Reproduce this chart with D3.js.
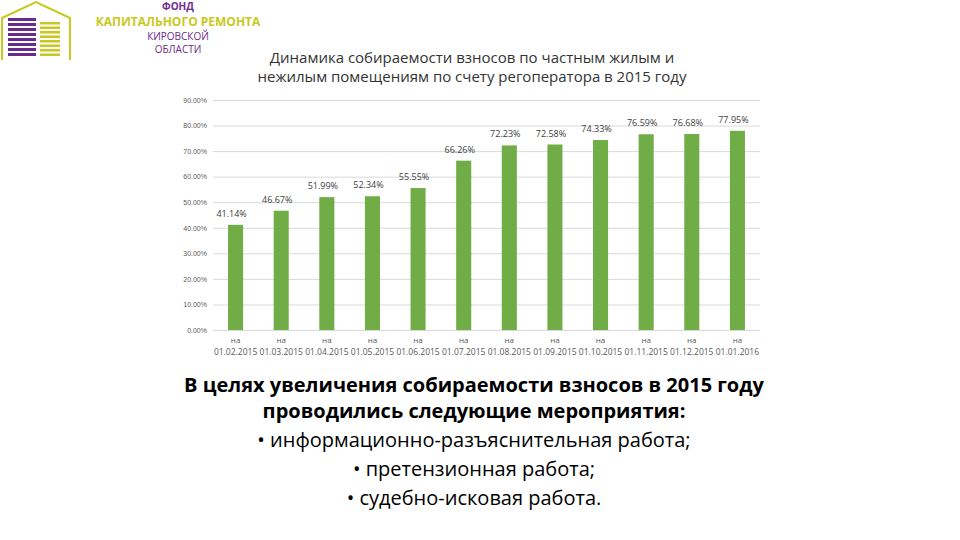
<!DOCTYPE html>
<html><head><meta charset="utf-8">
<script src="https://cdn.jsdelivr.net/npm/d3@7"></script>
<style>body{margin:0;background:#fff;font-family:"Open Sans",sans-serif}</style>
</head><body><svg id="c" width="960" height="540"></svg>
<script>
const dates = ['01.02.2015','01.03.2015','01.04.2015','01.05.2015','01.06.2015','01.07.2015','01.08.2015','01.09.2015','01.10.2015','01.11.2015','01.12.2015','01.01.2016'];
const values = [41.14, 46.67, 51.99, 52.34, 55.55, 66.26, 72.23, 72.58, 74.33, 76.59, 76.68, 77.95];
const yTicks = [0,10,20,30,40,50,60,70,80,90];
const bullets = ['информационно-разъяснительная работа;','претензионная работа;','судебно-исковая работа.'];

const svg = d3.select('#c');

// logo
const logo = svg.append('g');
logo.append('path').attr('d','M2,60 L2,18 L36,2 L70,18 L70,60').attr('fill','none').attr('stroke','#c8c820').attr('stroke-width',2);
d3.range(8).forEach(i => {
  logo.append('rect').attr('x',8).attr('y',18+i*5).attr('width',28).attr('height',3).attr('fill','#6a2c8c');
  logo.append('rect').attr('x',40).attr('y',22+i*4.5).attr('width',20).attr('height',2.5).attr('fill','#c8c820');
});
logo.append('text').attr('x',178).attr('y',10).attr('text-anchor','middle').attr('font-size',10).attr('font-weight','bold').attr('fill','#6a2c8c').text('ФОНД');
logo.append('text').attr('x',178).attr('y',26).attr('text-anchor','middle').attr('font-size',12).attr('font-weight','bold').attr('fill','#c8c820').text('КАПИТАЛЬНОГО РЕМОНТА');
logo.append('text').attr('x',178).attr('y',40).attr('text-anchor','middle').attr('font-size',10).attr('fill','#6a2c8c').text('КИРОВСКОЙ');
logo.append('text').attr('x',178).attr('y',53).attr('text-anchor','middle').attr('font-size',10).attr('fill','#6a2c8c').text('ОБЛАСТИ');

// title
svg.append('text').attr('x',472).attr('y',63).attr('text-anchor','middle').attr('font-size',15).attr('fill','#333').text('Динамика собираемости взносов по частным жилым и');
svg.append('text').attr('x',472).attr('y',82).attr('text-anchor','middle').attr('font-size',15).attr('fill','#333').text('нежилым помещениям по счету регоператора в 2015 году');

const x = d3.scaleBand().domain(dates).range([213, 760]).paddingInner(0.67).paddingOuter(0.33);
const y = d3.scaleLinear().domain([0, 90]).range([330, 100]);

const yAxis = d3.axisLeft(y).tickValues(yTicks).tickSize(-(760-213)).tickPadding(6)
  .tickFormat(d => d.toFixed(2) + '%');
svg.append('g').attr('transform','translate(213,0)').call(yAxis)
  .call(g => g.select('.domain').remove())
  .call(g => g.selectAll('.tick line').attr('stroke','#d9d9d9'))
  .call(g => g.selectAll('.tick text').attr('font-size',7).attr('fill','#595959').attr('x',-6).attr('text-anchor','end'));

svg.selectAll('.bar').data(values).join('rect')
  .attr('x',(d,i)=>x(dates[i])).attr('width',x.bandwidth())
  .attr('y',d=>y(d)).attr('height',d=>y(0)-y(d)).attr('fill','#70ad47');

svg.selectAll('.lbl').data(values).join('text')
  .attr('x',(d,i)=>x(dates[i])+x.bandwidth()/2-4).attr('y',d=>y(d)-8)
  .attr('text-anchor','middle').attr('font-size',9).attr('fill','#404040')
  .text(d=>d.toFixed(2)+'%');

const xl = svg.append('g');
dates.forEach(d => {
  const cx = x(d)+x.bandwidth()/2;
  xl.append('text').attr('x',cx).attr('y',343).attr('text-anchor','middle').attr('font-size',8).attr('fill','#595959').text('на');
  xl.append('text').attr('x',cx).attr('y',355).attr('text-anchor','middle').attr('font-size',8.5).attr('fill','#595959').text(d);
});

// body text
svg.append('text').attr('x',474).attr('y',392).attr('text-anchor','middle').attr('font-size',20).attr('font-weight','bold').attr('fill','#000').text('В целях увеличения собираемости взносов в 2015 году');
svg.append('text').attr('x',474).attr('y',418).attr('text-anchor','middle').attr('font-size',20).attr('font-weight','bold').attr('fill','#000').text('проводились следующие мероприятия:');
bullets.forEach((b,i) => {
  svg.append('text').attr('x',474).attr('y',447+i*29).attr('text-anchor','middle').attr('font-size',20).attr('fill','#000').text('•  ' + b);
});
</script></body></html>
